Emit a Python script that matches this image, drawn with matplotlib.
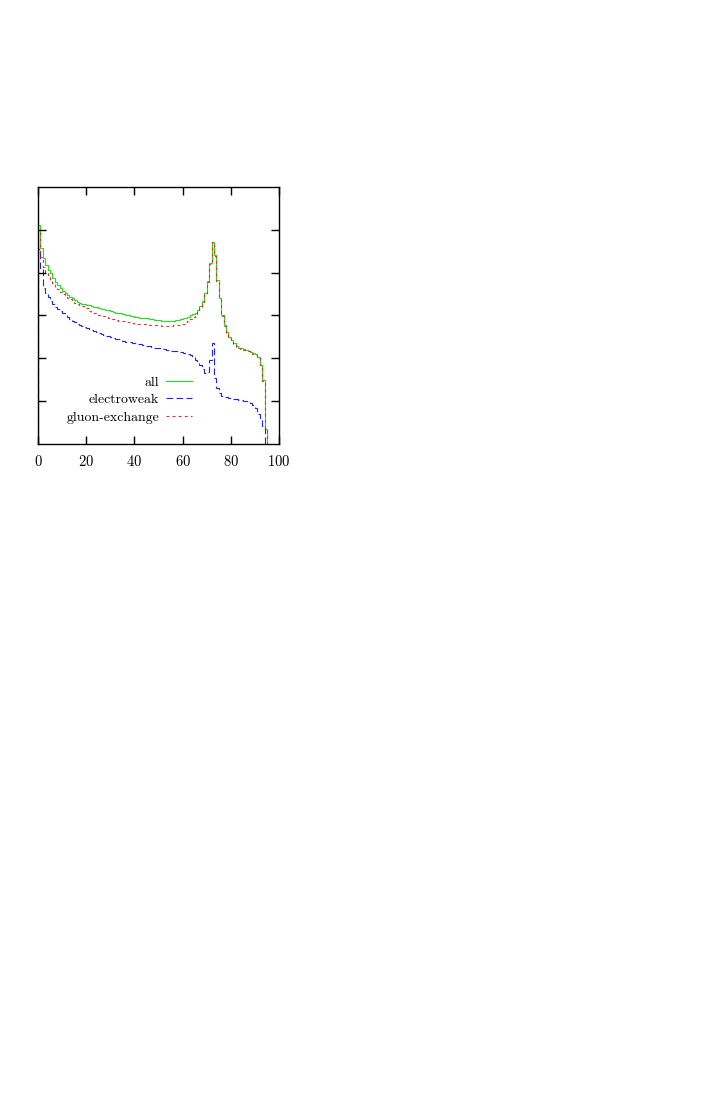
import numpy as np
import matplotlib
matplotlib.use('Agg')
import matplotlib.pyplot as plt

# Histogram bins (1 unit wide)
bin_edges_all = np.arange(0, 96)
bin_edges_ew = np.arange(0, 95)

all_values = [
    5.11, 4.57, 4.34, 4.18, 4.06, 3.99, 3.87, 3.79, 3.71, 3.64,
    3.58, 3.53, 3.48, 3.44, 3.40, 3.36, 3.32, 3.30, 3.28, 3.26,
    3.25, 3.24, 3.22, 3.21, 3.20, 3.18, 3.16, 3.15, 3.14, 3.13,
    3.11, 3.09, 3.07, 3.06, 3.05, 3.03, 3.02, 3.01, 2.99, 2.98,
    2.97, 2.96, 2.95, 2.94, 2.93, 2.93, 2.92, 2.91, 2.90, 2.90,
    2.89, 2.88, 2.88, 2.87, 2.87, 2.87, 2.88, 2.89, 2.90, 2.91,
    2.93, 2.95, 2.97, 3.00, 3.03, 3.07, 3.13, 3.22, 3.34, 3.52,
    3.80, 4.22, 4.72, 4.41, 3.82, 3.40, 3.00, 2.78, 2.62, 2.50,
    2.42, 2.35, 2.29, 2.25, 2.23, 2.21, 2.19, 2.17, 2.15, 2.13,
    2.11, 2.02, 1.85, 1.49, 0.36,
]

electroweak_values = [
    4.55, 4.12, 3.65, 3.52, 3.44, 3.34, 3.26, 3.20, 3.15, 3.10,
    3.05, 3.00, 2.96, 2.92, 2.88, 2.85, 2.81, 2.78, 2.75, 2.73,
    2.70, 2.67, 2.65, 2.63, 2.61, 2.58, 2.56, 2.54, 2.52, 2.51,
    2.49, 2.47, 2.45, 2.44, 2.42, 2.41, 2.39, 2.38, 2.37, 2.36,
    2.35, 2.34, 2.33, 2.32, 2.30, 2.29, 2.28, 2.27, 2.25, 2.24,
    2.23, 2.22, 2.21, 2.20, 2.19, 2.18, 2.17, 2.16, 2.15, 2.14,
    2.13, 2.11, 2.09, 2.07, 2.02, 1.96, 1.91, 1.84, 1.76, 1.65,
    1.69, 1.95, 2.35, 1.53, 1.30, 1.18, 1.12, 1.10, 1.09, 1.07,
    1.06, 1.05, 1.04, 1.03, 1.02, 1.01, 1.00, 0.98, 0.96, 0.92,
    0.84, 0.70, 0.60, 0.42,
]

gluon_values = [
    4.95, 4.37, 4.14, 4.02, 3.91, 3.83, 3.75, 3.67, 3.62, 3.56,
    3.50, 3.46, 3.42, 3.38, 3.34, 3.30, 3.27, 3.25, 3.22, 3.19,
    3.17, 3.11, 3.09, 3.07, 3.05, 3.02, 3.00, 2.98, 2.96, 2.94,
    2.92, 2.91, 2.89, 2.88, 2.87, 2.86, 2.85, 2.84, 2.83, 2.82,
    2.81, 2.81, 2.80, 2.80, 2.79, 2.79, 2.78, 2.78, 2.77, 2.77,
    2.77, 2.76, 2.76, 2.76, 2.76, 2.76, 2.77, 2.78, 2.78, 2.79,
    2.80, 2.84, 2.88, 2.92, 2.97, 3.03, 3.10, 3.19, 3.31, 3.50,
    3.79, 4.21, 4.71, 4.40, 3.81, 3.39, 2.98, 2.76, 2.59, 2.47,
    2.39, 2.32, 2.27, 2.24, 2.22, 2.20, 2.18, 2.16, 2.14, 2.11,
    2.08, 2.01, 1.84, 1.48, 0.35,
]

x_ticks = [0, 20, 40, 60, 80, 100]
y_ticks = [1, 2, 3, 4, 5]


def draw_plot():
    plt.rcParams['font.family'] = 'cmr10'
    plt.rcParams['axes.formatter.use_mathtext'] = True
    plt.rcParams['font.size'] = 10

    fig = plt.figure(figsize=(7.05, 11.0), dpi=100)
    ax = fig.add_axes([38 / 705, 1 - 444 / 1100, 241 / 705, 257 / 1100])

    ax.stairs(all_values, bin_edges_all, baseline=0, color='#1ee01e',
              linewidth=0.8, label='all')
    ax.stairs(electroweak_values, bin_edges_ew, baseline=0, color='#2020ff',
              linewidth=0.8, linestyle=(0, (6, 3)), label='electroweak')
    ax.stairs(gluon_values, bin_edges_all, baseline=0, color='#ff2020',
              linewidth=0.8, linestyle=(0, (2.5, 3)), label='gluon-exchange')

    ax.set_xlim(0, 100)
    ax.set_ylim(0, 6)
    ax.set_xticks(x_ticks)
    ax.set_yticks(y_ticks)
    ax.set_yticklabels([])
    ax.tick_params(direction='in', length=6, width=1.0, top=True, right=True,
                   pad=7, labelsize=10.5)
    for spine in ax.spines.values():
        spine.set_linewidth(1.0)

    # Legend: labels right-aligned, line samples after them
    ax.legend(loc='center right', bbox_to_anchor=(0.64, 0.172),
              frameon=False, markerfirst=False, handlelength=1.87,
              handletextpad=0.5, labelspacing=0.35, borderpad=0,
              borderaxespad=0)

    fig.savefig('out.png', dpi=100)


if __name__ == "__main__":
    draw_plot()
